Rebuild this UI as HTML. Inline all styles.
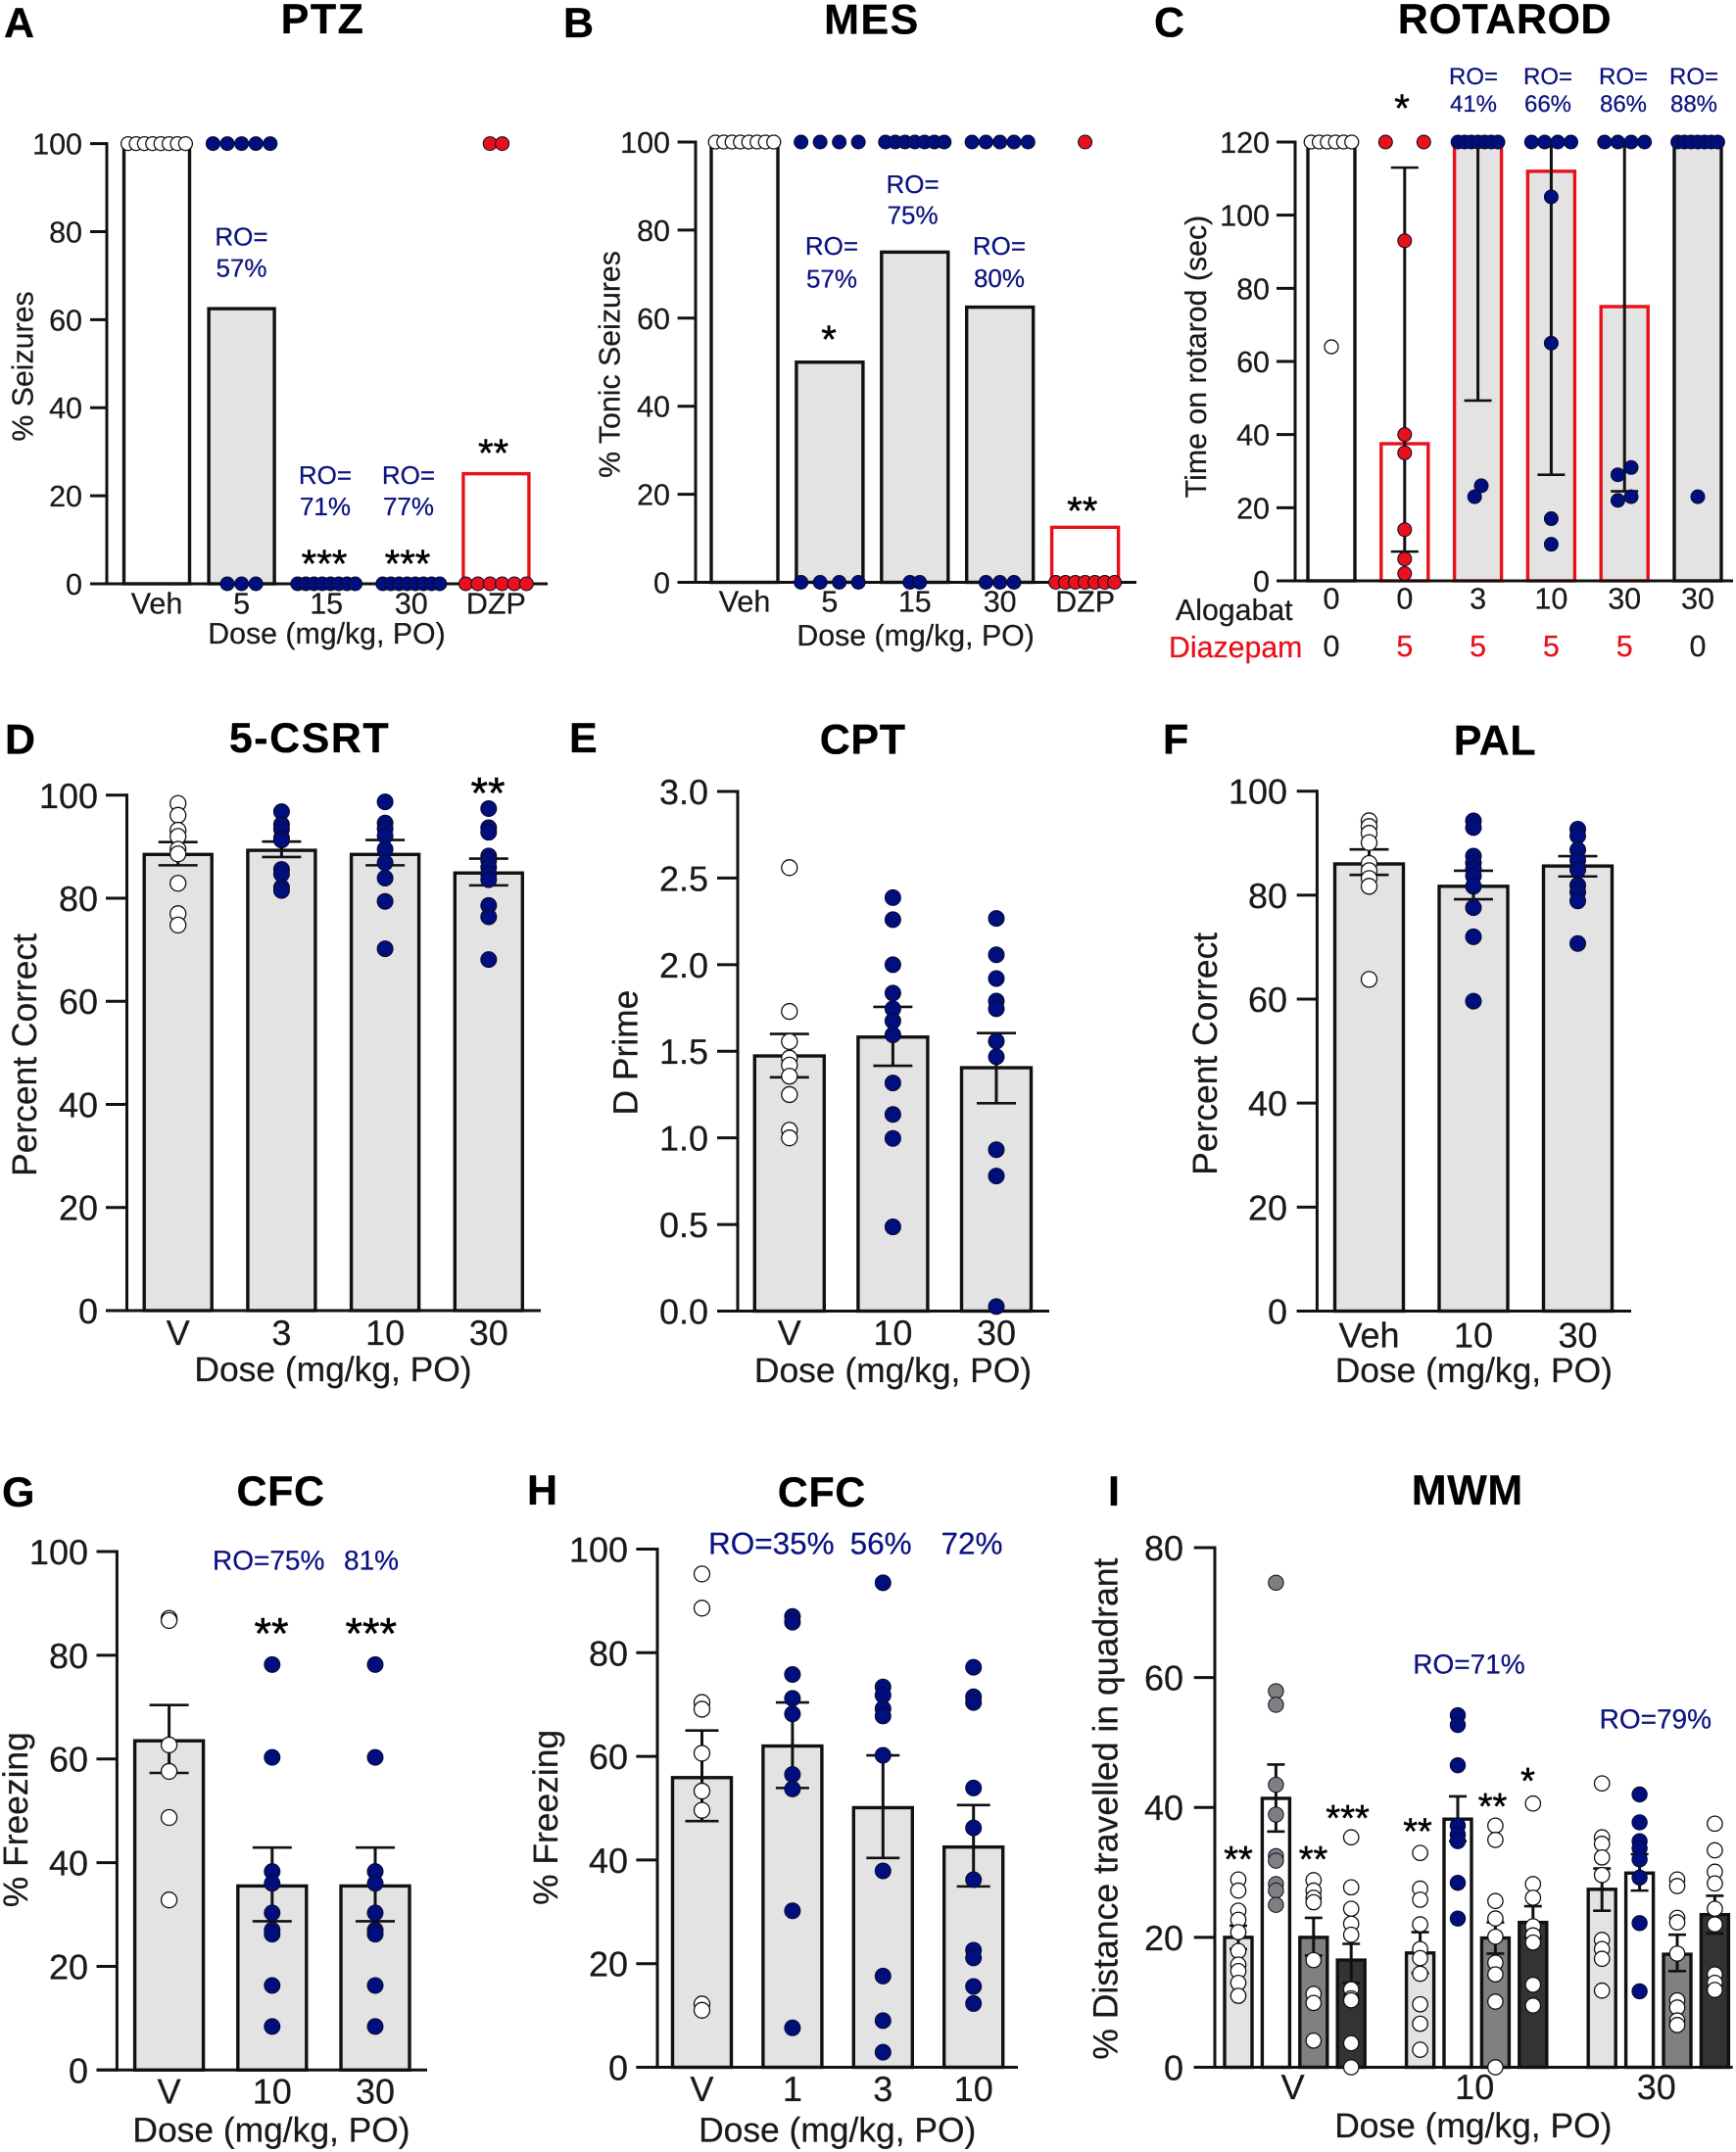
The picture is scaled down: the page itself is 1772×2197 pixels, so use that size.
<!DOCTYPE html>
<html lang="en">
<head>
<meta charset="utf-8">
<title>Alogabat behavioural panels</title>
<style>
html,body{margin:0;padding:0;background:#fff;}
svg{display:block;}
text{font-family:"Liberation Sans",Arial,sans-serif;fill:#1a1a1a;stroke:#1a1a1a;stroke-width:.25px;text-rendering:geometricPrecision;}
.letter,.title{font-weight:700;font-size:43px;fill:#000;stroke:#000;}
.ax30{font-size:30.3px;}
.ax35{font-size:35.4px;}
.ro{fill:#0b1480;stroke:#0b1480;}
.mid{text-anchor:middle;}
.star{fill:#000;stroke:#000;stroke-width:.5px;text-anchor:middle;}
</style>
</head>
<body>
<svg id="fig" xmlns="http://www.w3.org/2000/svg" width="1772" height="2197" viewBox="0 0 1772 2197">
<rect width="1772" height="2197" fill="#fff"/>

<g id="panel-a">
<text class="letter" x="4" y="38">A</text>
<text class="title mid" x="329.5" y="34" style="letter-spacing:1.5px">PTZ</text>
<text class="ax30" transform="translate(33.5,374) rotate(-90)" text-anchor="middle">% Seizures</text>
<text class="ax30 mid" x="333.5" y="657">Dose (mg/kg, PO)</text>
<text class="ro mid" font-size="26" x="246.5" y="250.6">RO=</text>
<text class="ro mid" font-size="26" x="246.5" y="282.7">57%</text>
<text class="ro mid" font-size="26" x="332" y="494">RO=</text>
<text class="ro mid" font-size="26" x="332" y="526">71%</text>
<text class="ro mid" font-size="26" x="417" y="494">RO=</text>
<text class="ro mid" font-size="26" x="417" y="526">77%</text>
<text class="star" font-size="40" x="503.6" y="476">**</text>
<text class="star" font-size="40" x="331" y="589">***</text>
<text class="star" font-size="40" x="416" y="589">***</text>
</g>

<g id="panel-b">
<text class="letter" x="575" y="38">B</text>
<text class="title mid" x="890" y="34.7" style="letter-spacing:1.5px">MES</text>
<text class="ax30" transform="translate(632.5,372) rotate(-90)" text-anchor="middle">% Tonic Seizures</text>
<text class="ax30 mid" x="934.6" y="659">Dose (mg/kg, PO)</text>
<text class="ro mid" font-size="26" x="849" y="260">RO=</text>
<text class="ro mid" font-size="26" x="849" y="293.6">57%</text>
<text class="ro mid" font-size="26" x="931.6" y="197">RO=</text>
<text class="ro mid" font-size="26" x="931.6" y="228.5">75%</text>
<text class="ro mid" font-size="26" x="1020" y="260">RO=</text>
<text class="ro mid" font-size="26" x="1020" y="293">80%</text>
<text class="star" font-size="40" x="846" y="360">*</text>
<text class="star" font-size="40" x="1104.7" y="535">**</text>
</g>

<g id="panel-c">
<text class="letter" x="1178" y="37.4">C</text>
<text class="title mid" x="1536" y="34" style="letter-spacing:.6px">ROTAROD</text>
<text class="ax30" transform="translate(1231,364) rotate(-90)" text-anchor="middle">Time on rotarod (sec)</text>
<text class="ax30" x="1200" y="633">Alogabat</text>
<text class="ax30" x="1193" y="671" style="fill:#e8101a;stroke:#e8101a">Diazepam</text>
<text class="ro mid" font-size="24" x="1504" y="86">RO=</text>
<text class="ro mid" font-size="24" x="1504" y="114">41%</text>
<text class="ro mid" font-size="24" x="1580" y="86">RO=</text>
<text class="ro mid" font-size="24" x="1580" y="114">66%</text>
<text class="ro mid" font-size="24" x="1657" y="86">RO=</text>
<text class="ro mid" font-size="24" x="1657" y="114">86%</text>
<text class="ro mid" font-size="24" x="1729" y="86">RO=</text>
<text class="ro mid" font-size="24" x="1729" y="114">88%</text>
<text class="star" font-size="40" x="1431" y="124">*</text>
</g>

<g id="panel-d">
<text class="letter" x="5" y="769.6">D</text>
<text class="title mid" x="316" y="768" style="letter-spacing:1.5px">5-CSRT</text>
<text class="ax35" transform="translate(37,1077) rotate(-90)" text-anchor="middle">Percent Correct</text>
<text class="ax35 mid" x="340" y="1410">Dose (mg/kg, PO)</text>
<text class="star" font-size="45" x="498" y="825">**</text>
</g>

<g id="panel-e">
<text class="letter" x="581" y="768">E</text>
<text class="title mid" x="880.7" y="769.6" style="letter-spacing:.6px">CPT</text>
<text class="ax35" transform="translate(650.7,1074.6) rotate(-90)" text-anchor="middle">D Prime</text>
<text class="ax35 mid" x="911.5" y="1411">Dose (mg/kg, PO)</text>
</g>

<g id="panel-f">
<text class="letter" x="1187" y="769.6">F</text>
<text class="title mid" x="1526" y="770.5" style="letter-spacing:.6px">PAL</text>
<text class="ax35" transform="translate(1242,1075.8) rotate(-90)" text-anchor="middle">Percent Correct</text>
<text class="ax35 mid" x="1504.3" y="1411">Dose (mg/kg, PO)</text>
</g>

<g id="panel-g">
<text class="letter" x="2" y="1538">G</text>
<text class="title mid" x="286.6" y="1537" style="letter-spacing:.6px">CFC</text>
<text class="ax35" transform="translate(28,1857.7) rotate(-90)" text-anchor="middle">% Freezing</text>
<text class="ax35 mid" x="277" y="2186.5">Dose (mg/kg, PO)</text>
<text class="ro" font-size="28" x="217" y="1602.5">RO=75%</text>
<text class="ro" font-size="28" x="351" y="1602.5">81%</text>
<text class="star" font-size="45" x="277" y="1683">**</text>
<text class="star" font-size="45" x="378.8" y="1683">***</text>
</g>

<g id="panel-h">
<text class="letter" x="538" y="1536">H</text>
<text class="title mid" x="838.8" y="1538" style="letter-spacing:.6px">CFC</text>
<text class="ax35" transform="translate(569,1855.4) rotate(-90)" text-anchor="middle">% Freezing</text>
<text class="ax35 mid" x="854.7" y="2186.5">Dose (mg/kg, PO)</text>
<text class="ro" font-size="31.5" x="723" y="1586.5">RO=35%</text>
<text class="ro" font-size="31.5" x="867.6" y="1586.5">56%</text>
<text class="ro" font-size="31.5" x="960.5" y="1586.5">72%</text>
</g>

<g id="panel-i">
<text class="letter" x="1131" y="1537">I</text>
<text class="title mid" x="1497.8" y="1535.8" style="letter-spacing:.6px">MWM</text>
<text class="ax35" transform="translate(1140.7,1846.7) rotate(-90)" text-anchor="middle" style="font-size:35.6px">% Distance travelled in quadrant</text>
<text class="ax35 mid" x="1503.8" y="2182">Dose (mg/kg, PO)</text>
<text class="ro mid" font-size="28" x="1499.5" y="1708.6">RO=71%</text>
<text class="ro mid" font-size="28" x="1689.8" y="1764.4">RO=79%</text>
<text class="star" font-size="38" x="1264" y="1911">**</text>
<text class="star" font-size="38" x="1340.5" y="1911">**</text>
<text class="star" font-size="38" x="1375.6" y="1869">***</text>
<text class="star" font-size="38" x="1447" y="1882.5">**</text>
<text class="star" font-size="38" x="1523.5" y="1857">**</text>
<text class="star" font-size="38" x="1559.5" y="1831">*</text>
</g>
</svg>

<script>
/* ---------- Panel A: PTZ ---------- */
const ptzCategories = ['Veh', '5', '15', '30', 'DZP'];
const ptzTicks = ['0', '20', '40', '60', '80', '100'];
const ptzBars = [100, 62.5, 0, 0, 25];
const ptzPoints = [
  [100, 100, 100, 100, 100, 100, 100, 100],
  [100, 100, 100, 100, 100, 0, 0, 0],
  [0, 0, 0, 0, 0, 0, 0, 0],
  [0, 0, 0, 0, 0, 0, 0, 0],
  [100, 100, 0, 0, 0, 0, 0, 0]
];

/* ---------- Panel B: MES ---------- */
const mesCategories = ['Veh', '5', '15', '30', 'DZP'];
const mesTicks = ['0', '20', '40', '60', '80', '100'];
const mesBars = [100, 50, 75, 62.5, 12.5];
const mesPoints = [
  [100, 100, 100, 100, 100, 100, 100, 100],
  [100, 100, 100, 100, 0, 0, 0, 0],
  [100, 100, 100, 100, 100, 100, 100, 0, 0],
  [100, 100, 100, 100, 100, 0, 0, 0],
  [100, 0, 0, 0, 0, 0, 0, 0]
];

/* ---------- Panel C: Rotarod ---------- */
const rotarodAlogabat = ['0', '0', '3', '10', '30', '30'];
const rotarodDiazepam = ['0', '5', '5', '5', '5', '0'];
const rotarodTicks = ['0', '20', '40', '60', '80', '100', '120'];
const rotarodBars = [120, 37.5, 120, 112, 75, 120];
const rotarodErrHigh = [null, 113, 120, 120, 120, null];
const rotarodErrLow = [null, 8, 49.3, 29, 24.5, null];
const rotarodPoints = [
  [120, 120, 120, 120, 120, 120, 64],
  [120, 120, 93, 40, 35, 14, 6, 2],
  [120, 120, 120, 120, 120, 120, 120, 26, 23],
  [120, 120, 120, 120, 105, 65, 17, 10],
  [120, 120, 120, 120, 31, 29, 23, 22],
  [120, 120, 120, 120, 120, 120, 120, 23]
];

/* ---------- Panel D: 5-CSRT ---------- */
const csrtCategories = ['V', '3', '10', '30'];
const csrtTicks = ['0', '20', '40', '60', '80', '100'];
const csrtBars = [88.5, 89.3, 88.5, 84.9];
const csrtErrHigh = [90.9, 91, 91.3, 87.7];
const csrtErrLow = [86.4, 88, 86.4, 82.5];
const csrtPoints = [
  [98.4, 96.1, 93.2, 92, 89.5, 88.6, 82.9, 77, 74.8],
  [96.8, 94.3, 93.4, 91.7, 91.3, 85.6, 84.7, 82.1, 81.5],
  [98.7, 94.6, 93.5, 92.1, 89.5, 86.9, 83.9, 79.4, 70.2],
  [97.4, 93.7, 92.8, 88.2, 87.3, 86, 84.7, 83.6, 78.6, 76.4, 68.1]
];

/* ---------- Panel E: CPT ---------- */
const cptCategories = ['V', '10', '30'];
const cptTicks = ['0.0', '0.5', '1.0', '1.5', '2.0', '2.5', '3.0'];
const cptBars = [1.473, 1.582, 1.405];
const cptErrHigh = [1.6, 1.756, 1.605];
const cptErrLow = [1.35, 1.416, 1.2];
const cptPoints = [
  [2.56, 1.73, 1.556, 1.46, 1.42, 1.356, 1.25, 1.044, 1.0],
  [2.387, 2.26, 2.0, 1.836, 1.745, 1.675, 1.595, 1.317, 1.135, 0.997, 0.486],
  [2.267, 2.057, 1.92, 1.79, 1.745, 1.558, 1.468, 0.932, 0.78, 0.026]
];

/* ---------- Panel F: PAL ---------- */
const palCategories = ['Veh', '10', '30'];
const palTicks = ['0', '20', '40', '60', '80', '100'];
const palBars = [86, 81.7, 85.6];
const palErrHigh = [88.8, 84.7, 87.5];
const palErrLow = [83.9, 79.2, 83.6];
const palPoints = [
  [94.3, 93.2, 91.9, 90.1, 86.1, 84.7, 83.2, 81.7, 63.8],
  [94.3, 93, 87.5, 86.2, 85, 83.7, 81.7, 77.6, 72, 59.6],
  [92.7, 91.4, 88.7, 86.7, 84.9, 81.9, 80.6, 78.9, 70.7]
];

/* ---------- Panel G: CFC ---------- */
const cfcGCategories = ['V', '10', '30'];
const cfcGTicks = ['0', '20', '40', '60', '80', '100'];
const cfcGBars = [63.5, 35.5, 35.5];
const cfcGErrHigh = [70.4, 42.9, 42.9];
const cfcGErrLow = [57.3, 28.7, 28.7];
const cfcGPoints = [
  [87.1, 86.7, 62.7, 57.6, 48.7, 32.8],
  [78.2, 60.3, 38.3, 36, 30.3, 27, 26.2, 16.3, 8.4],
  [78.2, 60.3, 38.3, 36, 30.3, 27, 26.2, 16.3, 8.4]
];

/* ---------- Panel H: CFC ---------- */
const cfcHCategories = ['V', '1', '3', '10'];
const cfcHTicks = ['0', '20', '40', '60', '80', '100'];
const cfcHBars = [55.9, 62, 50.1, 42.5];
const cfcHErrHigh = [65, 70.4, 60.2, 50.6];
const cfcHErrLow = [47.5, 53.9, 40.4, 34.9];
const cfcHPoints = [
  [95.2, 88.6, 70.4, 69.1, 60.6, 53.3, 49.6, 12.2, 11],
  [87, 85.9, 75.8, 71.2, 68.2, 56.5, 53.7, 30.2, 7.6],
  [93.5, 73.4, 71.8, 69.2, 67.8, 60.2, 37.9, 17.6, 9, 2.9],
  [77.2, 71.5, 70.4, 53.9, 46.2, 36.2, 22.6, 21.1, 15.6, 12.3]
];

/* ---------- Panel I: MWM ---------- */
const mwmGroups = ['V', '10', '30'];
const mwmTicks = ['0', '20', '40', '60', '80'];
const mwmBars = [20, 41.4, 20, 16.5, 17.6, 38.2, 19.9, 22.3, 27.4, 29.9, 17.4, 23.5];
const mwmErrHigh = [21.8, 46.6, 23, 19, 20.8, 41.7, 22.3, 24.8, 30.6, 32.8, 20.4, 26.4];
const mwmErrLow = [18.2, 36.3, 17.2, 13, 14.5, 34.8, 17.5, 20, 24.1, 27.2, 14.8, 20.6];
const mwmPoints = [
  [28.9, 27.2, 24.1, 22.7, 20.8, 17.9, 15.8, 14.8, 13, 11],
  [74.6, 57.9, 55.8, 43.5, 38.9, 32.5, 31.8, 28.2, 27.2, 25],
  [28.8, 27.2, 26.1, 25.4, 16.5, 11.3, 9.9, 4.1],
  [35.4, 27.7, 24.4, 22.1, 20.4, 12, 10.6, 10.3, 3.7, 0],
  [33, 27.5, 25.8, 22, 18.2, 16.8, 14.4, 9.7, 6.7, 2.7],
  [54.2, 52.7, 46.5, 37.2, 35.8, 34.8, 28.4, 22.9],
  [37.2, 35, 25.6, 22.9, 20.1, 16.1, 14.3, 10.1, 0],
  [40.6, 28.2, 26.1, 21.7, 20.3, 19.2, 12.7, 9.5],
  [43.7, 35.4, 34.4, 32.3, 29.6, 19.6, 18.2, 16.7, 11.8],
  [42, 37.7, 34.8, 33.7, 32, 29.2, 22.2, 11.7],
  [28.9, 27.9, 23, 22.3, 17.5, 10.3, 9.2, 7.2, 6.5],
  [37.5, 33.4, 30.1, 28.3, 24.4, 22, 14.3, 13, 11.9]
];

/* ---------- Drawing ---------- */
const SVGNS = 'http://www.w3.org/2000/svg';
const INK = '#111';
const GRAY = '#e3e3e3';
const RED = '#e8101a';
const NAVY = '#000f7d';
const WHITE = '#fff';

function make(parent, tag, name, attrs, content) {
  const el = document.createElementNS(SVGNS, tag);
  
  
  for (const k in attrs) el.setAttribute(k, attrs[k]);
  if (content !== undefined) el.textContent = content;
  parent.appendChild(el);
  return el;
}

function swarmOffsets(values, spacing, tolerance) {
  const order = values.map((v, i) => i).sort((a, b) => values[a] - values[b]);
  const offsets = new Array(values.length).fill(0);
  let k = 0;
  while (k < order.length) {
    let end = k;
    while (end + 1 < order.length && values[order[end + 1]] - values[order[k]] <= tolerance) end++;
    const n = end - k + 1;
    for (let j = 0; j < n; j++) offsets[order[k + j]] = (j - (n - 1) / 2) * spacing;
    k = end + 1;
  }
  return offsets;
}

function drawPanel(c) {
  const root = document.getElementById(c.id);
  const g = make(root, 'g', 'plot-area', {});
  const yMin = Number(c.ticks[0]);
  const yMax = Number(c.ticks[c.ticks.length - 1]);
  const yScale = v => c.yZero - (v - yMin) / (yMax - yMin) * (c.yZero - c.yTop);
  const groupSize = c.groupSize || 1000;
  const xScale = i => c.x0 + (i % groupSize) * c.pitch + Math.floor(i / groupSize) * (c.groupPitch || 0);
  const sw = c.strokeWidth || 3.4;
  const dotR = c.dotRadius || 7;

  c.bars.forEach((v, i) => {
    const name = 'bar-' + (c.barNames ? c.barNames[i] : i + 1);
    make(g, 'rect', name, {
      x: xScale(i) - c.barWidth / 2,
      y: yScale(v),
      width: c.barWidth,
      height: Math.max(0, c.yZero - yScale(v)),
      fill: c.fills[i],
      stroke: c.strokes[i],
      'stroke-width': sw
    });
  });

  if (c.errHigh) {
    c.errHigh.forEach((hi, i) => {
      if (hi === null) return;
      const lo = c.errLow[i];
      const x = xScale(i);
      make(g, 'line', 'error-stem', { x1: x, x2: x, y1: yScale(hi), y2: yScale(lo), stroke: INK, 'stroke-width': 3 });
      make(g, 'line', 'error-cap-upper', { x1: x - c.capHalf, x2: x + c.capHalf, y1: yScale(hi), y2: yScale(hi), stroke: INK, 'stroke-width': 2.6 });
      make(g, 'line', 'error-cap-lower', { x1: x - c.capHalf, x2: x + c.capHalf, y1: yScale(lo), y2: yScale(lo), stroke: INK, 'stroke-width': 2.6 });
    });
  }

  make(g, 'line', 'x-axis-line', { x1: c.tickStart, x2: c.xEnd, y1: c.yZero, y2: c.yZero, stroke: INK, 'stroke-width': 3 });
  make(g, 'line', 'y-axis-line', { x1: c.yAxisX, x2: c.yAxisX, y1: c.yTop - 1.5, y2: c.yZero + 1.5, stroke: INK, 'stroke-width': 3 });
  c.ticks.forEach(t => {
    const y = yScale(Number(t));
    make(g, 'line', 'y-tick', { x1: c.tickStart, x2: c.yAxisX, y1: y, y2: y, stroke: INK, 'stroke-width': 3 });
    make(g, 'text', 'y-tick-label', { x: c.tickRight, y: y + c.fontSize * 0.36, 'font-size': c.fontSize, 'text-anchor': 'end' }, t);
  });

  if (c.categories) {
    c.categories.forEach((t, i) => {
      let x = xScale(i);
      if (c.groupSize) x = (xScale(i * groupSize) + xScale(i * groupSize + groupSize - 1)) / 2 - 2;
      make(g, 'text', 'x-tick-label', { x: x, y: c.labelY, 'font-size': c.fontSize, 'text-anchor': 'middle' }, t);
    });
  }

  if (c.rows) {
    c.rows.forEach(row => {
      row.labels.forEach((t, i) => {
        const el = make(g, 'text', row.name, { x: xScale(i), y: row.y, 'font-size': c.fontSize, 'text-anchor': 'middle' }, t);
        if (row.highlight && t !== '0') el.setAttribute('style', 'fill:' + RED + ';stroke:' + RED);
      });
    });
  }

  c.points.forEach((vals, i) => {
    const offs = swarmOffsets(vals, c.spacing[i], c.tolerance || 0);
    vals.forEach((v, k) => {
      const solid = c.dots[i] !== WHITE;
      make(g, 'circle', 'data-point', {
        cx: xScale(i) + offs[k],
        cy: yScale(v),
        r: dotR,
        fill: c.dots[i],
        stroke: solid ? '#0a0a2a' : INK,
        'stroke-width': solid ? 1 : 1.3
      });
    });
  });
}

drawPanel({ id: 'panel-a', x0: 160, pitch: 86.6, barWidth: 67, yAxisX: 109, tickStart: 92, xEnd: 559, yTop: 146.6, yZero: 596,
  tickRight: 84, fontSize: 30.5, labelY: 626.6, categories: ptzCategories, ticks: ptzTicks, bars: ptzBars, points: ptzPoints,
  barNames: ptzCategories, fills: [WHITE, GRAY, GRAY, GRAY, WHITE], strokes: [INK, INK, INK, INK, RED],
  dots: [WHITE, NAVY, NAVY, NAVY, RED], spacing: [8.4, 14.6, 8.4, 8.3, 12.4] });

drawPanel({ id: 'panel-b', x0: 760, pitch: 86.9, barWidth: 68, yAxisX: 710, tickStart: 691.6, xEnd: 1160, yTop: 145, yZero: 594.5,
  tickRight: 684, fontSize: 30.5, labelY: 624.5, categories: mesCategories, ticks: mesTicks, bars: mesBars, points: mesPoints,
  barNames: mesCategories, fills: [WHITE, GRAY, GRAY, GRAY, WHITE], strokes: [INK, INK, INK, INK, RED],
  dots: [WHITE, NAVY, NAVY, NAVY, RED], spacing: [8.5, 19.5, 10, 14.3, 10] });

drawPanel({ id: 'panel-c', x0: 1359, pitch: 74.8, barWidth: 48, yAxisX: 1322, tickStart: 1303, xEnd: 1769, yTop: 145, yZero: 593,
  tickRight: 1296, fontSize: 30.5, ticks: rotarodTicks, bars: rotarodBars, points: rotarodPoints, errHigh: rotarodErrHigh, errLow: rotarodErrLow,
  capHalf: 14, tolerance: 3, fills: [WHITE, WHITE, GRAY, GRAY, GRAY, GRAY], strokes: [INK, RED, RED, RED, RED, INK],
  dots: [WHITE, RED, NAVY, NAVY, NAVY, NAVY], spacing: [8.3, 39, 6.8, 13.4, 13.6, 6.8],
  rows: [
    { name: 'alogabat-dose-label', labels: rotarodAlogabat, y: 621.5, highlight: false },
    { name: 'diazepam-dose-label', labels: rotarodDiazepam, y: 670, highlight: true }
  ] });

drawPanel({ id: 'panel-d', x0: 181.7, pitch: 105.7, barWidth: 69, yAxisX: 129.5, tickStart: 108, xEnd: 552, yTop: 811.8, yZero: 1338,
  tickRight: 100, fontSize: 36, dotRadius: 8, labelY: 1373, categories: csrtCategories, ticks: csrtTicks, bars: csrtBars, points: csrtPoints,
  errHigh: csrtErrHigh, errLow: csrtErrLow, capHalf: 20, barNames: csrtCategories, fills: [GRAY, GRAY, GRAY, GRAY], strokes: [INK, INK, INK, INK],
  dots: [WHITE, NAVY, NAVY, NAVY], spacing: [0, 0, 0, 0] });

drawPanel({ id: 'panel-e', x0: 805.8, pitch: 105.6, barWidth: 71, yAxisX: 753, tickStart: 732, xEnd: 1071, yTop: 808, yZero: 1338.5,
  tickRight: 723, fontSize: 36, dotRadius: 8, labelY: 1373, categories: cptCategories, ticks: cptTicks, bars: cptBars, points: cptPoints,
  errHigh: cptErrHigh, errLow: cptErrLow, capHalf: 20, barNames: cptCategories, fills: [GRAY, GRAY, GRAY], strokes: [INK, INK, INK],
  dots: [WHITE, NAVY, NAVY], spacing: [0, 0, 0] });

drawPanel({ id: 'panel-f', x0: 1397.5, pitch: 106.5, barWidth: 70, yAxisX: 1344.4, tickStart: 1323.7, xEnd: 1665, yTop: 807.7, yZero: 1338.5,
  tickRight: 1314, fontSize: 36, dotRadius: 8, labelY: 1375.6, categories: palCategories, ticks: palTicks, bars: palBars, points: palPoints,
  errHigh: palErrHigh, errLow: palErrLow, capHalf: 20, barNames: palCategories, fills: [GRAY, GRAY, GRAY], strokes: [INK, INK, INK],
  dots: [WHITE, NAVY, NAVY], spacing: [0, 0, 0] });

drawPanel({ id: 'panel-g', x0: 172.6, pitch: 105.2, barWidth: 70, yAxisX: 119.4, tickStart: 98.5, xEnd: 436, yTop: 1584, yZero: 2113.3,
  tickRight: 90, fontSize: 36, dotRadius: 8, labelY: 2147.6, categories: cfcGCategories, ticks: cfcGTicks, bars: cfcGBars, points: cfcGPoints,
  errHigh: cfcGErrHigh, errLow: cfcGErrLow, capHalf: 20, barNames: cfcGCategories, fills: [GRAY, GRAY, GRAY], strokes: [INK, INK, INK],
  dots: [WHITE, NAVY, NAVY], spacing: [0, 0, 0] });

drawPanel({ id: 'panel-h', x0: 716.5, pitch: 92.4, barWidth: 60, yAxisX: 671, tickStart: 649.4, xEnd: 1039, yTop: 1581.5, yZero: 2110.5,
  tickRight: 641, fontSize: 36, dotRadius: 8, labelY: 2145, categories: cfcHCategories, ticks: cfcHTicks, bars: cfcHBars, points: cfcHPoints,
  errHigh: cfcHErrHigh, errLow: cfcHErrLow, capHalf: 17, barNames: cfcHCategories, fills: [GRAY, GRAY, GRAY, GRAY], strokes: [INK, INK, INK, INK],
  dots: [WHITE, NAVY, NAVY, NAVY], spacing: [0, 0, 0, 0] });

drawPanel({ id: 'panel-i', x0: 1264, pitch: 38.4, groupSize: 4, groupPitch: 185.6, barWidth: 28, yAxisX: 1240, tickStart: 1218.7, xEnd: 1768.7, yTop: 1580, yZero: 2110.5,
  tickRight: 1208, fontSize: 36, dotRadius: 7.7, labelY: 2143, categories: mwmGroups, ticks: mwmTicks, bars: mwmBars, points: mwmPoints,
  errHigh: mwmErrHigh, errLow: mwmErrLow, capHalf: 9,
  fills: [GRAY, WHITE, '#808080', '#333', GRAY, WHITE, '#808080', '#333', GRAY, WHITE, '#808080', '#333'],
  strokes: [INK, INK, INK, INK, INK, INK, INK, INK, INK, INK, INK, INK],
  dots: [WHITE, '#7f7f7f', WHITE, WHITE, WHITE, NAVY, WHITE, WHITE, WHITE, NAVY, WHITE, WHITE],
  spacing: [0, 0, 0, 0, 0, 0, 0, 0, 0, 0, 0, 0] });
</script>
</body>
</html>
